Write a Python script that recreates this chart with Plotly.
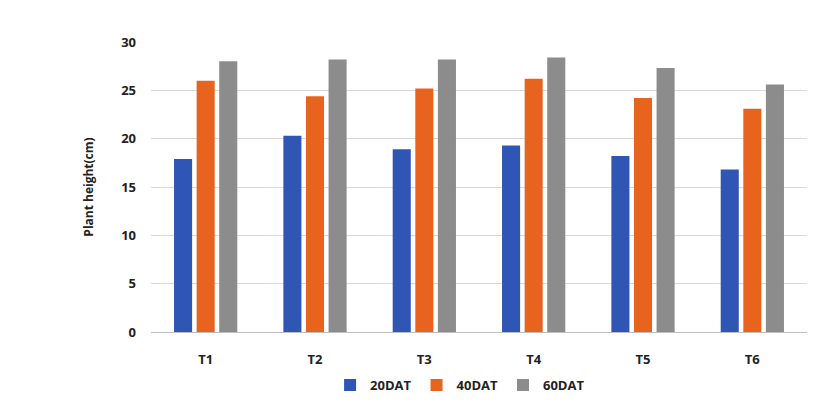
import plotly.graph_objects as go

categories = ["T1", "T2", "T3", "T4", "T5", "T6"]
dat20 = [17.9, 20.3, 18.9, 19.3, 18.2, 16.8]
dat40 = [26.0, 24.4, 25.2, 26.2, 24.2, 23.1]
dat60 = [28.0, 28.2, 28.2, 28.4, 27.3, 25.6]
series_names = ["20DAT", "40DAT", "60DAT"]
colors = ["#2F55B5", "#E8641E", "#8C8C8C"]
yticks = [0, 5, 10, 15, 20, 25, 30]

font = "Open Sans"
fig = go.Figure()
for name, vals, col in zip(series_names, [dat20, dat40, dat60], colors):
    fig.add_trace(go.Bar(x=categories, y=vals, name=name, marker_color=col,
                         marker_line_width=0))

fig.update_layout(
    width=828, height=402,
    margin=dict(l=151, r=21, t=42, b=70, autoexpand=False),
    paper_bgcolor="white", plot_bgcolor="white",
    barmode="group", bargap=0.38, bargroupgap=0.2,
    font=dict(family=font, size=12, color="#222222"),
    xaxis=dict(showgrid=False, showline=True, linecolor="#BFBFBF", linewidth=1,
               ticks="", tickfont=dict(family=font, size=13, color="#222222", weight="bold"),
               ticklabelstandoff=15),
    yaxis=dict(range=[0, 30], tickvals=yticks, showgrid=True, gridcolor="#D9D9D9",
               gridwidth=1, zeroline=False, showline=False, ticks="",
               tickfont=dict(family=font, size=13, color="#222222", weight="bold"),
               ticklabelstandoff=14, automargin=False,
               title=dict(text="Plant height(cm)", standoff=24,
                          font=dict(family=font, size=12, color="#222222", weight="bold"))),
    legend=dict(orientation="h", x=0.273, xanchor="left", y=-0.183, yanchor="middle",
                font=dict(family=font, size=13, color="#222222", weight="bold"),
                itemwidth=30, traceorder="normal"),
    showlegend=True,
)

fig.write_html("out.html")
